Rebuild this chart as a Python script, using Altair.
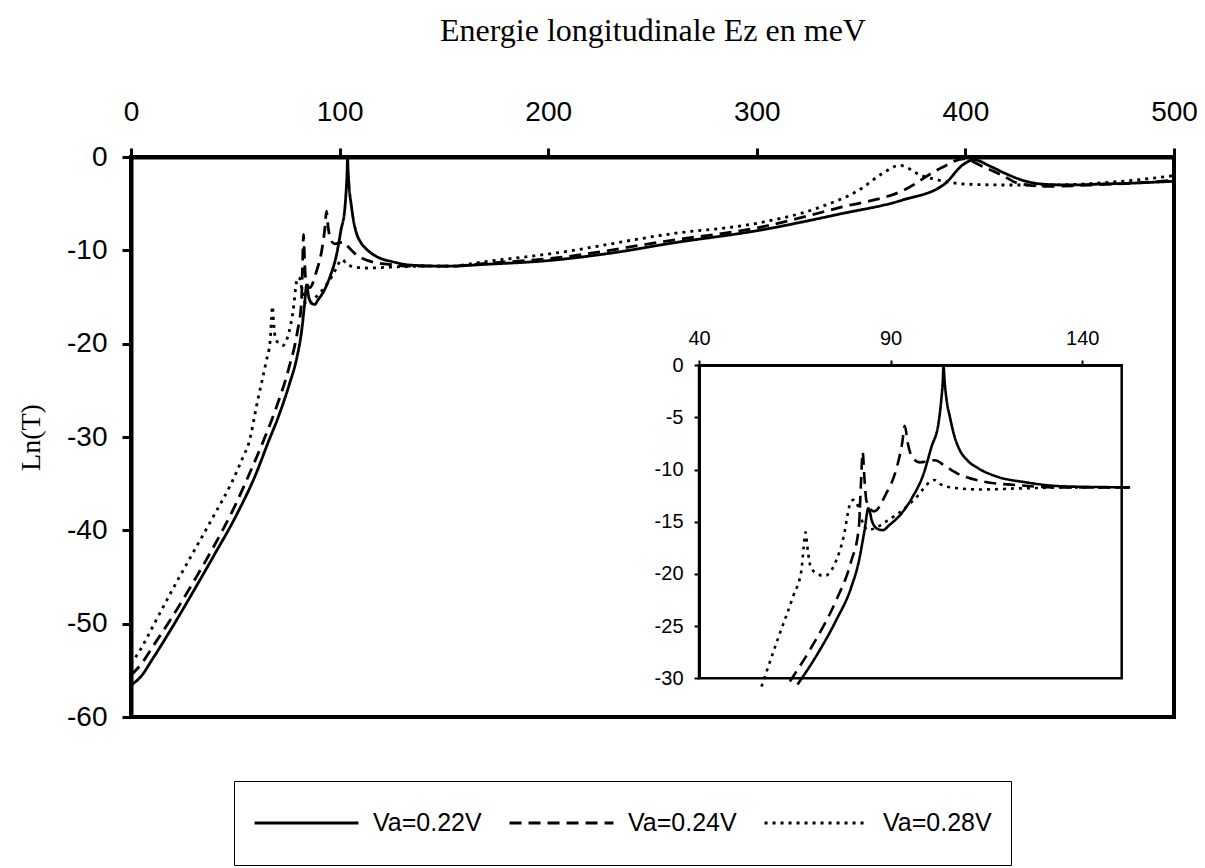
import altair as alt
import pandas as pd

series_names = ["Va=0.22V", "Va=0.24V", "Va=0.28V"]

# Va = 0.22 V (solid)
e_022 = [0, 5, 10, 20, 30, 40, 50, 60, 65.7, 70.7, 75.7, 79.7, 81.7, 83.2, 84.2, 85.2,
         86.7, 88, 89.7, 92.6, 95.6, 98.6, 100.6, 102.6, 103.2, 103.6, 103.8, 104.1,
         104.6, 105.5, 106.5, 108, 110, 113, 118, 125, 135, 152.5, 170, 200, 230, 260,
         300, 340, 370, 390, 399, 404, 412, 419, 429, 440, 450, 465, 480, 500]
t_022 = [-56.6, -55.6, -53.9, -50.3, -46.5, -42.6, -38.6, -33.9, -30.6, -27.8, -24.5,
         -21.3, -18.8, -15.8, -13.7, -15.0, -15.7, -15.8, -15.3, -14.3, -12.7, -10.4,
         -7.9, -5.3, -3.4, -1.6, -0.1, -1.6, -3.3, -5.0, -6.6, -8.1, -9.1, -9.9, -10.7,
         -11.2, -11.6, -11.7, -11.5, -11.1, -10.3, -9.2, -7.9, -6.1, -4.6, -2.9, -0.8,
         -0.3, -1.0, -1.75, -2.6, -2.95, -3.0, -2.9, -2.8, -2.6]

# Va = 0.24 V (dashed)
e_024 = [0, 5, 10, 20, 30, 40, 50, 58, 63.7, 69.7, 75.7, 79.7, 81.7, 82.3, 82.7, 83.2,
         83.7, 85.7, 88.7, 91.6, 93, 93.7, 94.5, 95.6, 97.6, 100, 101.6, 104, 107.6,
         113.6, 123.5, 133.5, 152.5, 170, 200, 260, 300, 340, 370, 389, 399, 409, 418,
         425, 440, 460, 480, 500]
t_024 = [-55.5, -54.3, -52.6, -49.2, -45.5, -41.6, -37.3, -33.3, -30.3, -26.8, -22.6,
         -18.8, -15.6, -11.0, -8.3, -11.0, -13.0, -14.0, -12.4, -9.8, -7.5, -5.8, -7.5,
         -8.8, -9.3, -9.2, -9.1, -9.6, -10.4, -11.1, -11.5, -11.7, -11.7, -11.4, -10.9,
         -8.9, -7.6, -5.4, -3.6, -1.1, -0.2, -1.1, -2.0, -2.8, -3.15, -3.0, -2.8, -2.5]

# Va = 0.28 V (dotted)
e_028 = [0, 5, 10, 20, 30, 40, 48, 54, 56.3, 60.7, 64.7, 66.7, 67.3, 67.8, 68.4, 69.2,
         71, 72.7, 75.7, 77.7, 79.5, 80.3, 81.2, 82, 83, 84, 86, 88.7, 91.6, 96.6,
         100.6, 101.5, 103, 105.6, 113.6, 123.5, 140, 152.5, 170, 200, 260, 300, 330,
         350, 360, 368.5, 379, 390, 400, 420, 440, 460, 480, 500]
t_028 = [-54.3, -52.6, -50.5, -46.3, -42.3, -38.3, -35.0, -32.0, -30.8, -26.1, -22.0,
         -19.7, -17.5, -16.0, -17.8, -19.4, -20.0, -20.2, -18.8, -16.5, -13.2, -12.9,
         -13.2, -14.3, -15.3, -15.8, -15.6, -15.0, -14.3, -12.7, -11.1, -11.0, -11.4,
         -11.7, -11.9, -11.8, -11.7, -11.7, -11.2, -10.4, -8.2, -7.1, -5.4, -3.4, -1.8,
         -0.9, -2.0, -2.6, -2.9, -3.0, -3.0, -2.85, -2.5, -2.0]

main_x_ticks = [0, 100, 200, 300, 400, 500]
main_y_ticks = [0, -10, -20, -30, -40, -50, -60]
inset_x_ticks = [40, 90, 140]
inset_y_ticks = [0, -5, -10, -15, -20, -25, -30]

rows = []
for name, es, ts in zip(series_names, [e_022, e_024, e_028], [t_022, t_024, t_028]):
    for e, t in zip(es, ts):
        rows.append({"E": e, "lnT": t, "series": name})
df = pd.DataFrame(rows)

box = pd.DataFrame({"x0": [40], "x1": [150.3], "y0": [-30], "y1": [0]})

W, H = 1043, 560
SANS = "Liberation Sans"
SERIF = "Liberation Serif"
HYPHEN_LABEL = "'' + datum.value"

dash = alt.StrokeDash(
    "series:N",
    scale=alt.Scale(domain=series_names, range=[[1, 0], [12, 7], [3, 5]]),
    legend=alt.Legend(
        orient="none", legendX=103, legendY=624, direction="horizontal", columns=3,
        title=None, symbolType="stroke", symbolSize=10800, symbolStrokeWidth=3,
        symbolStrokeColor="black", labelFont=SANS, labelFontSize=25, labelColor="black",
        labelOffset=13, columnPadding=26, padding=19, clipHeight=46,
        strokeColor="black",
    ),
)

main = alt.Chart(df).mark_line(color="black", strokeWidth=2.8, interpolate="monotone").encode(
    x=alt.X("E:Q",
            scale=alt.Scale(domain=[0, 500], nice=False, zero=False),
            axis=alt.Axis(orient="top", values=main_x_ticks, labelExpr=HYPHEN_LABEL,
                          title="Energie longitudinale Ez en meV", titleY=-117,
                          titleFont=SERIF, titleFontSize=32, titleFontWeight="normal",
                          titleColor="black", titleBaseline="alphabetic",
                          labelFont=SANS, labelFontSize=28, labelColor="black",
                          labelPadding=22, labelFlush=False, tickSize=9, tickWidth=3,
                          tickColor="black", domainWidth=4, domainColor="black",
                          grid=False)),
    y=alt.Y("lnT:Q",
            scale=alt.Scale(domain=[-60, 0], nice=False, zero=False),
            axis=alt.Axis(orient="left", values=main_y_ticks, labelExpr=HYPHEN_LABEL,
                          title="Ln(T)", titleX=-100, titleY=280, titleBaseline="middle",
                          titleFont=SERIF, titleFontSize=28, titleFontWeight="normal",
                          titleColor="black",
                          labelFont=SANS, labelFontSize=28, labelColor="black",
                          labelPadding=15, tickSize=9, tickWidth=3, tickColor="black",
                          domainWidth=4, domainColor="black", grid=False)),
    strokeDash=dash,
)

ix = alt.Scale(domain=[40, 150.3], range=[568, 990.7], nice=False, zero=False)
iy = alt.Scale(domain=[-30, 0], range=[521.3, 208.3], nice=False, zero=False)

inset_lines = alt.Chart(df).transform_filter(
    "datum.lnT >= -31.2 && datum.E >= 50 && datum.E <= 153"
).mark_line(color="black", strokeWidth=2.6, interpolate="monotone").encode(
    x=alt.X("E:Q", scale=ix,
            axis=alt.Axis(orient="top", offset=-208, values=inset_x_ticks,
                          labelExpr=HYPHEN_LABEL, title=None, labelFont=SANS,
                          labelFontSize=20, labelColor="black", labelPadding=12,
                          labelFlush=False, tickSize=5, tickWidth=2, tickColor="black",
                          domainWidth=3, domainColor="black", grid=False)),
    y=alt.Y("lnT:Q", scale=iy,
            axis=alt.Axis(orient="left", offset=-568, values=inset_y_ticks,
                          labelExpr=HYPHEN_LABEL, title=None, labelFont=SANS,
                          labelFontSize=20, labelColor="black", labelPadding=11,
                          tickSize=5, tickWidth=2, tickColor="black", domainWidth=3,
                          domainColor="black", grid=False)),
    strokeDash=dash,
)

inset_box = alt.Chart(box).mark_rect(filled=False, stroke="black", strokeWidth=2.5).encode(
    x="x0:Q", x2="x1", y="y0:Q", y2="y1",
)

inset = alt.layer(inset_lines, inset_box)

chart = alt.layer(main, inset).resolve_scale(
    x="independent", y="independent"
).properties(
    width=W, height=H,
    autosize=alt.AutoSizeParams(type="none"),
    padding={"left": 123, "top": 149, "right": 23, "bottom": 151},
).configure_view(stroke="black", strokeWidth=4)

chart.save("out.html", embed_options={"renderer": "svg", "actions": False})
